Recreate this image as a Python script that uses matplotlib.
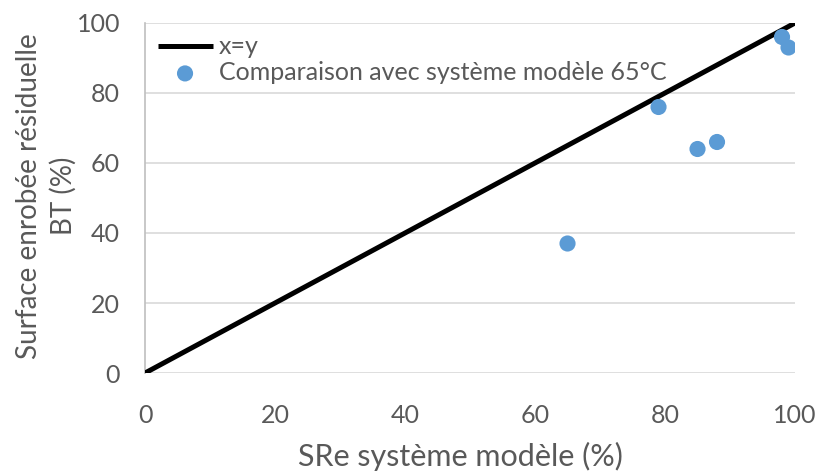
import matplotlib
matplotlib.use("Agg")
import matplotlib.pyplot as plt

# Measured surface fractions (%)
sre_modele = [65, 79, 85, 88, 98, 99]
surface_bt = [37, 76, 64, 66, 96, 93]
diag = [0, 100]
ticks = [0, 20, 40, 60, 80, 100]

plt.rcParams['font.family'] = ['Lato', 'DejaVu Sans']
text_color = '#595959'

fig = plt.figure(figsize=(8.18, 4.73), dpi=100)
ax = fig.add_axes([0.1773, 0.2114, 0.7946, 0.74])

ax.plot(diag, diag, color='black', lw=3.6, label='x=y', zorder=3, solid_capstyle='butt')
ax.scatter(sre_modele, surface_bt, s=135, color='#5b9bd5', zorder=4,
           label='Comparaison avec système modèle 65°C', edgecolors='none')

ax.set_xlim(0, 100)
ax.set_ylim(0, 100)
ax.set_xticks(ticks)
ax.set_yticks(ticks)
ax.grid(axis='y', color='#d9d9d9', lw=1.2)
ax.set_axisbelow(True)
for side in ['top', 'right', 'bottom']:
    ax.spines[side].set_visible(False)
ax.spines['left'].set_color('#bfbfbf')
ax.spines['left'].set_linewidth(1.2)
ax.tick_params(length=0, labelsize=18, labelcolor=text_color)
ax.tick_params(axis='x', pad=22)
ax.tick_params(axis='y', pad=18)

ax.set_xlabel('SRe système modèle (%)', fontsize=22, color=text_color)
ax.xaxis.set_label_coords(0.486, -0.197)
ax.set_ylabel('Surface enrobée résiduelle\nBT (%)', fontsize=20, color=text_color,
              linespacing=1.35)
ax.yaxis.set_label_coords(-0.105, 0.505)

leg = ax.legend(loc='upper left', frameon=False, fontsize=18, handlelength=2.2,
                handletextpad=0.25, borderaxespad=0.2, labelspacing=0.1,
                borderpad=0.3)
for t in leg.get_texts():
    t.set_color(text_color)

fig.savefig('out.png', dpi=100)
